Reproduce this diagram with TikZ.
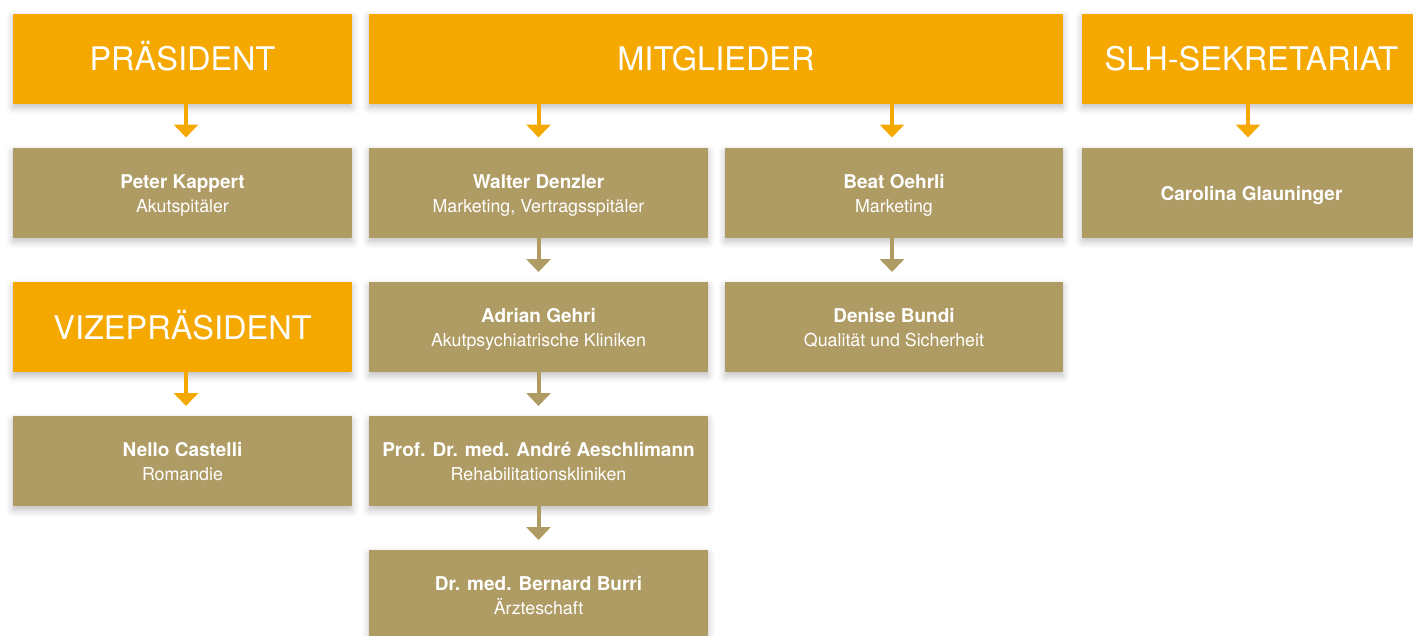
\documentclass[tikz,border=0pt]{standalone}
\usepackage{fontspec}
\setmainfont{TeX Gyre Heros}
\usetikzlibrary{arrows.meta,shadows.blur}

\definecolor{slhorange}{HTML}{F5A800}
\definecolor{slhgold}{HTML}{AF9B64}

% name in bold, function below
\newcommand{\who}[2]{\rule{0pt}{20pt}{\fontsize{19}{24}\selectfont\bfseries #1}\\#2\rule[-5pt]{0pt}{5pt}}
\newcommand{\whoonly}[1]{\rule{0pt}{20pt}{\fontsize{19}{24}\selectfont\bfseries #1}\rule[-5pt]{0pt}{5pt}}

\tikzset{
	boxshadow/.style={blur shadow={shadow xshift=0pt, shadow yshift=-4pt, shadow blur radius=7pt, shadow opacity=25}},
	head/.style={boxshadow, fill=slhorange, text=white, minimum height=90pt, outer sep=0pt, text height=24pt, text depth=0pt, font=\fontsize{32.5}{36}\selectfont},
	member/.style={boxshadow, fill=slhgold, text=white, minimum width=339pt, minimum height=90pt, outer sep=0pt, align=center, font=\fontsize{17.8}{24}\selectfont},
	orarrow/.style={draw=slhorange, line width=4pt, -{Triangle[width=24pt,length=13pt]}, shorten >=10pt},
	goarrow/.style={draw=slhgold, line width=4pt, -{Triangle[width=24pt,length=13pt]}, shorten >=10pt}
}

\begin{document}
\begin{tikzpicture}[x=1pt, y=-1pt]
	\useasboundingbox (0,0) rectangle (1413,635);
	\clip (0,0) rectangle (1413,635);

	% top row
	\draw (182.5,58.5) node[head, minimum width=339pt] (praes) {PRÄSIDENT} ;
	\draw (716,58.5) node[head, minimum width=694pt] (mitgl) {MITGLIEDER} ;
	\draw (1251.5,58.5) node[head, minimum width=339pt] (sekr) {SLH-SEKRETARIAT} ;

	\draw (182.5,192.5) node[member] (kappert) {\who{Peter Kappert}{Akutspitäler}} ;
	\draw (538.5,192.5) node[member] (denzler) {\who{Walter Denzler}{Marketing, Vertragsspitäler}} ;
	\draw (894,192.5) node[member, minimum width=338pt] (oehrli) {\who{Beat Oehrli}{Marketing}} ;
	\draw (1251.5,192.5) node[member] (glauninger) {\whoonly{Carolina Glauninger}} ;

	\draw (182.5,327) node[head, minimum width=339pt] (vize) {VIZEPRÄSIDENT} ;
	\draw (538.5,327) node[member] (gehri) {\who{Adrian Gehri}{Akutpsychiatrische Kliniken}} ;
	\draw (894,327) node[member, minimum width=338pt] (bundi) {\who{Denise Bundi}{Qualität und Sicherheit}} ;

	\draw (182.5,461) node[member] (castelli) {\who{Nello Castelli}{Romandie}} ;
	\draw (538.5,461) node[member] (aeschlimann) {\who{Prof. Dr. med. André Aeschlimann}{Rehabilitationskliniken}} ;

	\draw (538.5,595) node[member] (burri) {\who{Dr. med. Bernard Burri}{Ärzteschaft}} ;

	% arrows
	\draw [orarrow] ([xshift=3.5pt]praes.south) -- ([xshift=3.5pt]kappert.north);
	\draw [orarrow] (mitgl.south -| denzler) -- (denzler.north);
	\draw [orarrow] ([xshift=-2pt]mitgl.south -| oehrli) -- ([xshift=-2pt]oehrli.north);
	\draw [orarrow] ([xshift=-3.5pt]sekr.south) -- ([xshift=-3.5pt]glauninger.north);
	\draw [orarrow] ([xshift=3.5pt]vize.south) -- ([xshift=3.5pt]castelli.north);

	\draw [goarrow] (denzler.south) -- (gehri.north);
	\draw [goarrow] ([xshift=-2pt]oehrli.south) -- ([xshift=-2pt]bundi.north);
	\draw [goarrow] (gehri.south) -- (aeschlimann.north);
	\draw [goarrow] (aeschlimann.south) -- (burri.north);
\end{tikzpicture}
\end{document}
